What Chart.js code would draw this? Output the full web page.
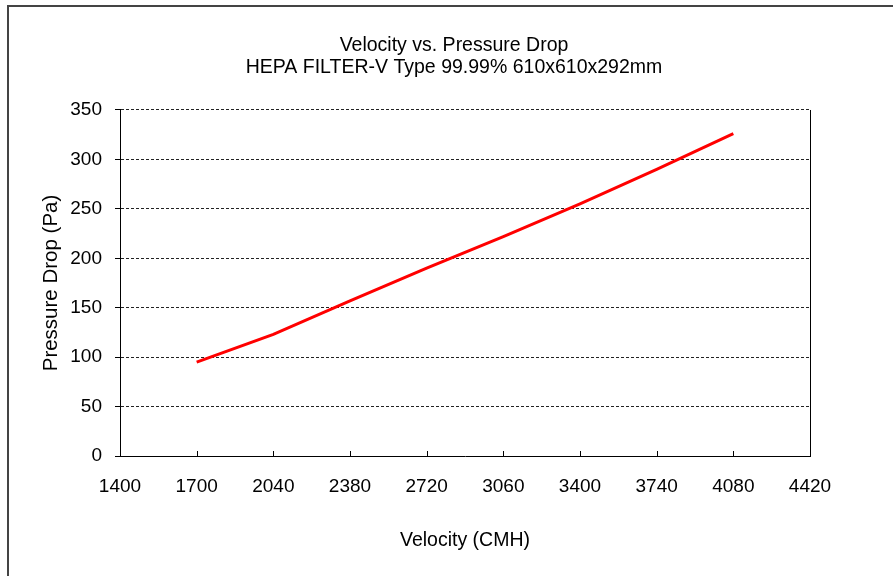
<!DOCTYPE html>
<html>
<head>
<meta charset="utf-8">
<script src="https://cdn.jsdelivr.net/npm/chart.js@4.4.1/dist/chart.umd.min.js"></script>
<style>
  html, body { margin: 0; padding: 0; background: #fff; overflow: hidden; }
  #wrap { position: relative; width: 893px; height: 576px; }
  #frame { position: absolute; left: 7px; top: 5px; width: 1000px; height: 1000px; border: 2px solid #444; box-sizing: border-box; }
  canvas { position: absolute; left: 0; top: 0; }
</style>
</head>
<body>
<div id="wrap">
  <div id="frame"></div>
  <canvas id="pressure_drop_chart" width="893" height="576"></canvas>
</div>
<script>
var velocity = [1700, 2040, 2380, 2720, 3060, 3400, 3740, 4080];
var pressureDrop = [95, 123, 157, 190, 222, 255, 290, 326];
var xTickLabels = ["1400", "1700", "2040", "2380", "2720", "3060", "3400", "3740", "4080", "4420"];
var yTicks = [0, 50, 100, 150, 200, 250, 300, 350];

var fontFamily = "'Liberation Sans', Arial, sans-serif";

// excel style: x ticks point inwards, plot area closed on the right
var plotFrame = {
    id: 'plotFrame',
    afterDraw: function (chart) {
        var ctx = chart.ctx;
        var area = chart.chartArea;
        var xScale = chart.scales.x;
        ctx.save();
        ctx.strokeStyle = '#000';
        ctx.lineWidth = 1;
        ctx.beginPath();
        xScale.ticks.forEach(function (t) {
            var px = Math.round(xScale.getPixelForValue(t.value)) + 0.5;
            ctx.moveTo(px, area.bottom);
            ctx.lineTo(px, area.bottom - 5);
        });
        var rx = Math.round(area.right) + 0.5;
        ctx.moveTo(rx, area.top);
        ctx.lineTo(rx, area.bottom);
        ctx.stroke();
        ctx.restore();
    }
};

function createChart() {
    var ctx = document.getElementById("pressure_drop_chart").getContext('2d');
    var points = [];
    for (var i = 0; i < velocity.length; i++) {
        points.push({x: velocity[i], y: pressureDrop[i]});
    }
    new Chart(ctx, {
        type: 'line',
        data: {
            datasets: [{
                label: "Pressure Drop",
                data: points,
                borderColor: 'rgb(255, 0, 0)',
                borderWidth: 3,
                pointRadius: 0,
                tension: 0,
                fill: false
            }]
        },
        options: {
            responsive: false,
            animation: false,
            // negative right padding + empty right axis: keeps the plot where it is
            // but moves the centre of the title a bit to the left
            layout: {padding: {left: 0, right: -15, top: 0, bottom: 0}},
            plugins: {
                legend: {display: false},
                tooltip: {enabled: false},
                title: {
                    display: true,
                    text: ["Velocity vs. Pressure Drop", "HEPA FILTER-V Type 99.99% 610x610x292mm"],
                    color: '#000',
                    font: {family: fontFamily, size: 19.5, weight: 'normal', lineHeight: 1.164},
                    padding: {top: 34, bottom: 30.6}
                }
            },
            scales: {
                x: {
                    type: 'linear',
                    min: 1360,
                    max: 4420,
                    afterFit: function (scale) { scale.height = 120; },
                    afterBuildTicks: function (scale) {
                        scale.ticks = xTickLabels.map(function (l, i) { return {value: 1360 + i * 340}; });
                    },
                    ticks: {
                        color: '#000',
                        font: {family: fontFamily, size: 19},
                        padding: 11,
                        maxRotation: 0,
                        autoSkip: false,
                        callback: function (value, index) { return xTickLabels[index]; }
                    },
                    grid: {display: false},
                    border: {display: true, color: '#000', width: 1},
                    title: {
                        display: true,
                        text: "Velocity (CMH)",
                        color: '#000',
                        font: {family: fontFamily, size: 19.5},
                        padding: {top: 0, bottom: 23.3}
                    }
                },
                y: {
                    min: 0,
                    max: 350,
                    afterFit: function (scale) { scale.width = 120; },
                    afterBuildTicks: function (scale) {
                        scale.ticks = yTicks.map(function (v) { return {value: v}; });
                    },
                    ticks: {
                        color: '#000',
                        font: {family: fontFamily, size: 19},
                        padding: 13
                    },
                    grid: {color: '#222', lineWidth: 1, tickColor: '#000', tickLength: 5},
                    border: {display: true, color: '#000', width: 1, dash: [3, 2]},
                    title: {
                        display: true,
                        text: "Pressure Drop (Pa)",
                        color: '#000',
                        font: {family: fontFamily, size: 20.5},
                        padding: {top: 38.7, bottom: 0}
                    }
                },
                rightSpace: {
                    type: 'linear',
                    axis: 'y',
                    position: 'right',
                    display: true,
                    afterFit: function (scale) { scale.width = 98; },
                    grid: {display: false},
                    ticks: {display: false},
                    border: {display: false}
                }
            }
        },
        plugins: [plotFrame]
    });
}

createChart();
</script>
</body>
</html>
